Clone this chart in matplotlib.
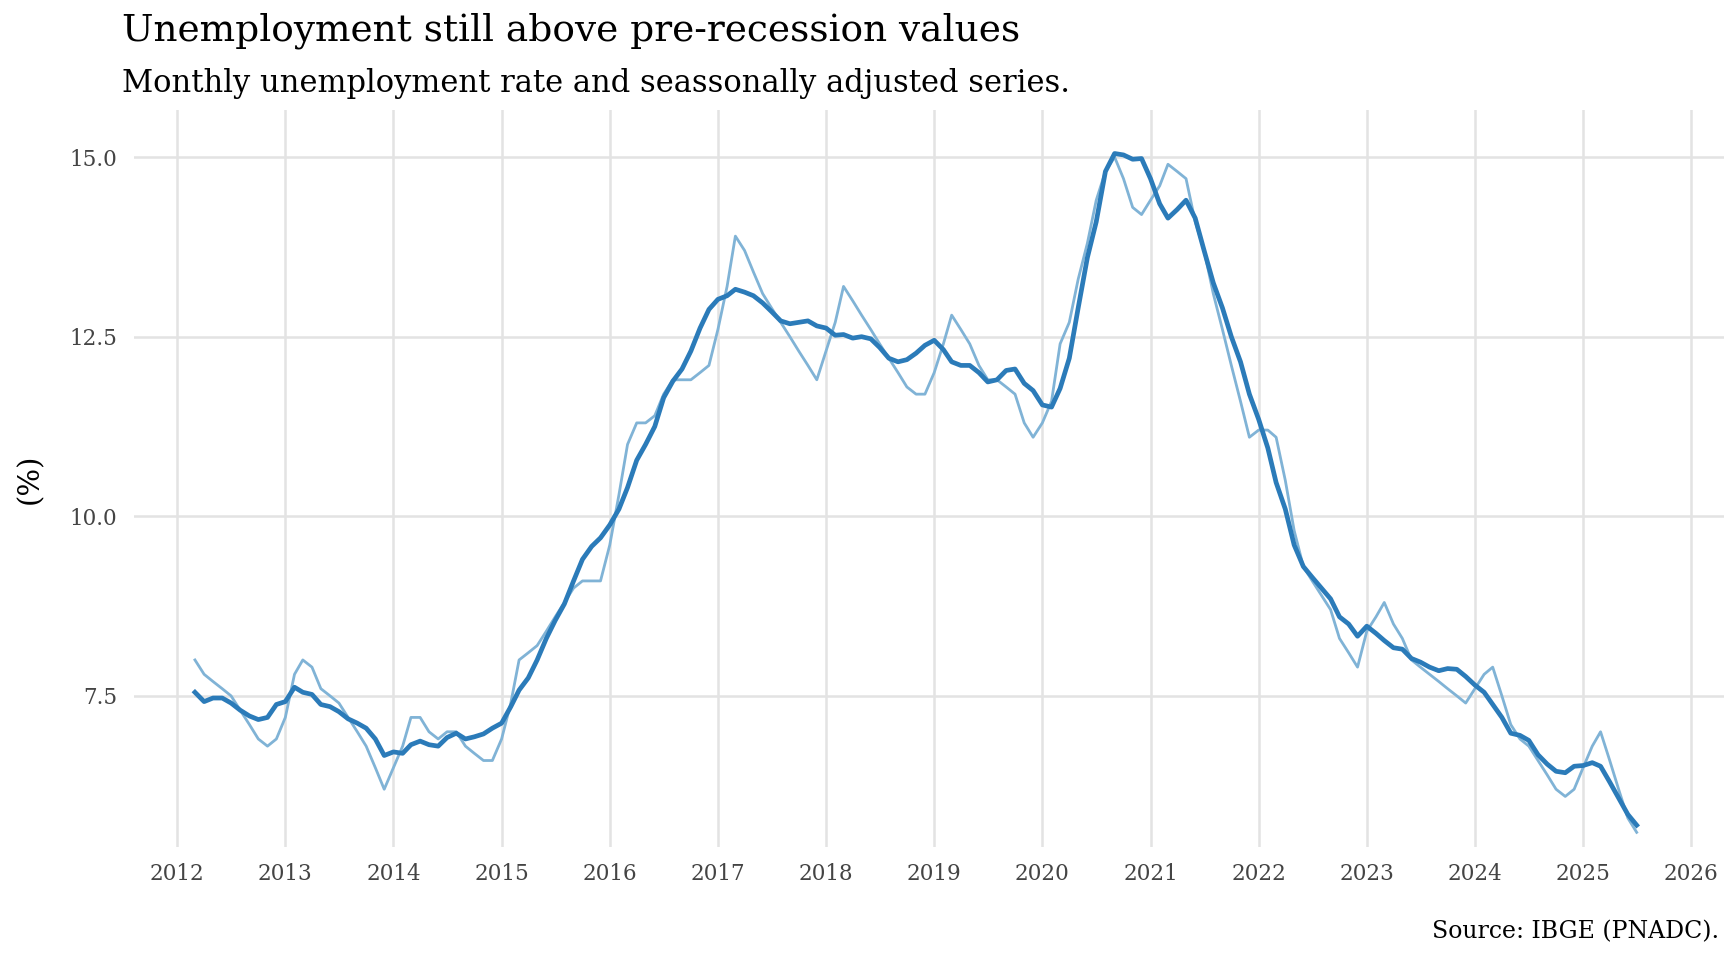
import numpy as np
import pandas as pd
import matplotlib
matplotlib.use("Agg")
import matplotlib.pyplot as plt

# monthly series starting March 2012
raw = [8.0, 7.8, 7.7, 7.6, 7.5, 7.3, 7.1, 6.9, 6.8, 6.9,
       7.2, 7.8, 8.0, 7.9, 7.6, 7.5, 7.4, 7.2, 7.0, 6.8, 6.5, 6.2,
       6.5, 6.8, 7.2, 7.2, 7.0, 6.9, 7.0, 7.0, 6.8, 6.7, 6.6, 6.6,
       6.9, 7.4, 8.0, 8.1, 8.2, 8.4, 8.6, 8.8, 9.0, 9.1, 9.1, 9.1,
       9.6, 10.3, 11.0, 11.3, 11.3, 11.4, 11.7, 11.9, 11.9, 11.9, 12.0, 12.1,
       12.6, 13.2, 13.9, 13.7, 13.4, 13.1, 12.9, 12.7, 12.5, 12.3, 12.1, 11.9,
       12.3, 12.7, 13.2, 13.0, 12.8, 12.6, 12.4, 12.2, 12.0, 11.8, 11.7, 11.7,
       12.0, 12.4, 12.8, 12.6, 12.4, 12.1, 11.9, 11.9, 11.8, 11.7, 11.3, 11.1,
       11.3, 11.6, 12.4, 12.7, 13.3, 13.8, 14.4, 14.8, 15.0, 14.7, 14.3, 14.2,
       14.4, 14.6, 14.9, 14.8, 14.7, 14.1, 13.7, 13.1, 12.6, 12.1, 11.6, 11.1,
       11.2, 11.2, 11.1, 10.5, 9.8, 9.3, 9.1, 8.9, 8.7, 8.3, 8.1, 7.9,
       8.4, 8.6, 8.8, 8.5, 8.3, 8.0, 7.9, 7.8, 7.7, 7.6, 7.5, 7.4,
       7.6, 7.8, 7.9, 7.5, 7.1, 6.9, 6.8, 6.6, 6.4, 6.2, 6.1, 6.2,
       6.5, 6.8, 7.0, 6.6, 6.2, 5.8, 5.6]

adjusted = [7.55, 7.42, 7.47, 7.47, 7.4, 7.3, 7.22, 7.17, 7.2, 7.38,
            7.42, 7.62, 7.55, 7.52, 7.38, 7.35, 7.28, 7.18, 7.12, 7.05, 6.9, 6.67,
            6.72, 6.70, 6.82, 6.87, 6.82, 6.80, 6.92, 6.98, 6.90, 6.93, 6.97, 7.05,
            7.12, 7.35, 7.58, 7.75, 8.0, 8.3, 8.55, 8.78, 9.1, 9.4, 9.58, 9.7,
            9.88, 10.1, 10.4, 10.78, 11.0, 11.25, 11.65, 11.88, 12.05, 12.3, 12.62, 12.88,
            13.02, 13.07, 13.16, 13.12, 13.07, 12.97, 12.85, 12.72, 12.68, 12.7, 12.72, 12.65,
            12.62, 12.52, 12.53, 12.48, 12.5, 12.47, 12.35, 12.2, 12.15, 12.18, 12.27, 12.38,
            12.45, 12.32, 12.15, 12.1, 12.1, 12.0, 11.87, 11.9, 12.03, 12.05, 11.85, 11.75,
            11.55, 11.52, 11.78, 12.2, 12.9, 13.6, 14.1, 14.8, 15.05, 15.03, 14.97, 14.98,
            14.7, 14.35, 14.15, 14.27, 14.4, 14.15, 13.7, 13.25, 12.9, 12.5, 12.15, 11.7,
            11.35, 10.95, 10.47, 10.1, 9.6, 9.3, 9.15, 9.0, 8.85, 8.6, 8.5, 8.33,
            8.47, 8.37, 8.27, 8.17, 8.15, 8.02, 7.97, 7.9, 7.85, 7.88, 7.87, 7.77,
            7.65, 7.55, 7.38, 7.2, 6.98, 6.95, 6.88, 6.68, 6.55, 6.45, 6.43, 6.52,
            6.53, 6.57, 6.52, 6.3, 6.08, 5.85, 5.7]

dates = pd.date_range("2012-03-01", periods=len(raw), freq="MS")
years = list(range(2012, 2027))

def frac_year(d):
    return d.year + (d.dayofyear - 1) / 365.25

t = np.array([frac_year(d) for d in dates])

plt.rcParams['font.family'] = ['DejaVu Serif']
fig = plt.figure(figsize=(17.28, 9.6), dpi=100)
ax = fig.add_axes([0.0775, 0.118, 0.920, 0.767])

ax.plot(t, raw, color='#80b3d6', lw=2.0)
ax.plot(t, adjusted, color='#2b7bb9', lw=3.4)

ax.set_xlim(2011.6, 2026.3)
ax.set_ylim(5.4, 15.65)
ax.set_xticks(years)
ax.set_xticklabels([str(y) for y in years])
ax.set_yticks([7.5, 10.0, 12.5, 15.0])
ax.set_yticklabels(["7.5", "10.0", "12.5", "15.0"])
ax.grid(True, color='#e3e3e3', lw=1.8)
ax.set_axisbelow(True)
for s in ax.spines.values():
    s.set_visible(False)
ax.tick_params(length=0, labelsize=15.5, colors='#444444', pad=12)
ax.set_ylabel("(%)", fontsize=21, labelpad=18)

fig.text(0.0705, 0.968, "Unemployment still above pre-recession values", fontsize=27, va='center')
fig.text(0.0705, 0.913, "Monthly unemployment rate and seassonally adjusted series.", fontsize=22, va='center')
fig.text(0.995, 0.029, "Source: IBGE (PNADC).", fontsize=17, ha='right', va='center')

fig.savefig("out.png", dpi=100)
